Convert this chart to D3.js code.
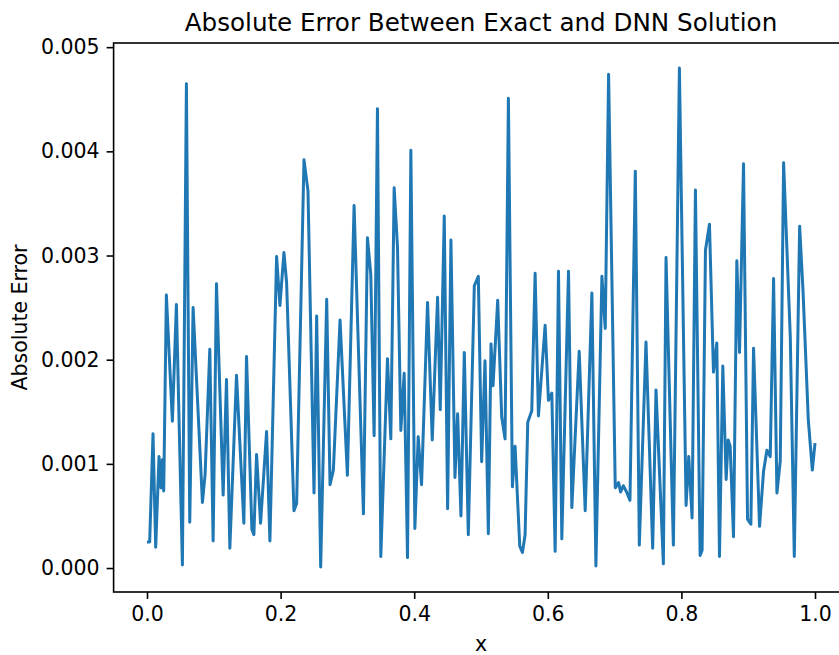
<!DOCTYPE html>
<html>
<head>
<meta charset="utf-8">
<script src="https://cdn.jsdelivr.net/npm/d3@7/dist/d3.min.js"></script>
<style>
body { margin: 0; background: #fff; }
text { font-family: "DejaVu Sans", sans-serif; fill: #000; }
</style>
</head>
<body>
<div id="chart"></div>
<script>
// values (turning points of the curve)
var xValues = [
  0.000, 0.004, 0.009, 0.013, 0.018, 0.021, 0.023, 0.025, 0.029, 0.038,
  0.044, 0.053, 0.059, 0.064, 0.069, 0.083, 0.087, 0.094, 0.099, 0.104,
  0.114, 0.119, 0.124, 0.134, 0.145, 0.149, 0.157, 0.160, 0.164, 0.170,
  0.179, 0.184, 0.194, 0.199, 0.205, 0.209, 0.220, 0.224, 0.235, 0.241,
  0.250, 0.254, 0.260, 0.269, 0.274, 0.279, 0.289, 0.300, 0.310, 0.324,
  0.330, 0.335, 0.340, 0.345, 0.350, 0.360, 0.365, 0.370, 0.375, 0.380,
  0.385, 0.390, 0.395, 0.401, 0.406, 0.411, 0.420, 0.427, 0.435, 0.439,
  0.445, 0.450, 0.455, 0.461, 0.465, 0.470, 0.475, 0.481, 0.490, 0.496,
  0.501, 0.506, 0.511, 0.515, 0.518, 0.525, 0.531, 0.536, 0.541, 0.547,
  0.551, 0.558, 0.562, 0.566, 0.570, 0.576, 0.581, 0.586, 0.596, 0.601,
  0.606, 0.611, 0.616, 0.621, 0.631, 0.636, 0.647, 0.656, 0.666, 0.672,
  0.681, 0.686, 0.691, 0.701, 0.706, 0.709, 0.713, 0.718, 0.723, 0.731,
  0.737, 0.747, 0.757, 0.762, 0.773, 0.777, 0.788, 0.797, 0.807, 0.811,
  0.816, 0.821, 0.828, 0.831, 0.836, 0.842, 0.848, 0.853, 0.857, 0.862,
  0.867, 0.870, 0.873, 0.878, 0.883, 0.887, 0.893, 0.899, 0.904, 0.908,
  0.917, 0.923, 0.928, 0.933, 0.938, 0.943, 0.948, 0.953, 0.963, 0.969,
  0.977, 0.982, 0.990, 0.996, 1.000
];

var errValues = [
  0.00025, 0.00025, 0.00129, 0.00020, 0.00107, 0.00077, 0.00104, 0.00074, 0.00262, 0.00141,
  0.00253, 0.00003, 0.00465, 0.00044, 0.00250, 0.00063, 0.00090, 0.00210, 0.00026, 0.00273,
  0.00070, 0.00181, 0.00019, 0.00185, 0.00043, 0.00203, 0.00037, 0.00032, 0.00109, 0.00043,
  0.00131, 0.00026, 0.00299, 0.00252, 0.00303, 0.00274, 0.00055, 0.00062, 0.00392, 0.00362,
  0.00072, 0.00242, 0.00001, 0.00258, 0.00080, 0.00094, 0.00238, 0.00089, 0.00348, 0.00052,
  0.00317, 0.00282, 0.00127, 0.00441, 0.00011, 0.00201, 0.00124, 0.00365, 0.00308, 0.00132,
  0.00187, 0.00010, 0.00401, 0.00038, 0.00126, 0.00080, 0.00255, 0.00123, 0.00260, 0.00152,
  0.00338, 0.00057, 0.00315, 0.00087, 0.00148, 0.00050, 0.00207, 0.00032, 0.00271, 0.00280,
  0.00102, 0.00199, 0.00033, 0.00215, 0.00175, 0.00257, 0.00145, 0.00124, 0.00451, 0.00078,
  0.00117, 0.00021, 0.00015, 0.00032, 0.00140, 0.00151, 0.00283, 0.00146, 0.00233, 0.00161,
  0.00168, 0.00016, 0.00285, 0.00028, 0.00285, 0.00058, 0.00208, 0.00055, 0.00264, 0.00002,
  0.00280, 0.00230, 0.00474, 0.00077, 0.00082, 0.00073, 0.00079, 0.00073, 0.00065, 0.00381,
  0.00022, 0.00217, 0.00019, 0.00171, 0.00004, 0.00298, 0.00022, 0.00480, 0.00060, 0.00107,
  0.00048, 0.00363, 0.00012, 0.00017, 0.00305, 0.00330, 0.00188, 0.00216, 0.00011, 0.00194,
  0.00085, 0.00123, 0.00117, 0.00030, 0.00295, 0.00207, 0.00388, 0.00047, 0.00042, 0.00211,
  0.00040, 0.00093, 0.00113, 0.00107, 0.00278, 0.00072, 0.00103, 0.00389, 0.00222, 0.00011,
  0.00328, 0.00267, 0.00142, 0.00094, 0.00120
];

var xTicks = [0.0, 0.2, 0.4, 0.6, 0.8, 1.0];
var yTicks = [0.000, 0.001, 0.002, 0.003, 0.004, 0.005];

var titleText = "Absolute Error Between Exact and DNN Solution";
var xLabel = "x";
var yLabel = "Absolute Error";

var outerWidth = 839,
  outerHeight = 655,
  marginLeft = 113.6,
  marginTop = 43,
  width = 734.8,   // right spine falls just outside the picture
  height = 549;

var svg = d3.select("#chart").append("svg")
  .attr("width", outerWidth)
  .attr("height", outerHeight);

var g = svg.append("g")
  .attr("transform", "translate(" + marginLeft + "," + marginTop + ")");

// matplotlib style limits with 5% margins
var xScale = d3.scaleLinear()
  .domain([-0.05, 1.05])
  .range([0, width]);

var yScale = d3.scaleLinear()
  .domain([-0.00023, 0.00504])
  .range([height, 0]);

var data = xValues.map(function(x, i) {
  return { x: x, err: errValues[i] };
});

var line = d3.line()
  .x(function(d) { return xScale(d.x); })
  .y(function(d) { return yScale(d.err); });

g.append("path")
  .datum(data)
  .attr("fill", "none")
  .attr("stroke", "#1f77b4")
  .attr("stroke-width", 3)
  .attr("stroke-linejoin", "round")
  .attr("d", line);

var xAxis = d3.axisBottom(xScale)
  .tickValues(xTicks)
  .tickSize(7)
  .tickPadding(7)
  .tickFormat(d3.format(".1f"));

var yAxis = d3.axisLeft(yScale)
  .tickValues(yTicks)
  .tickSize(7)
  .tickPadding(7)
  .tickFormat(d3.format(".3f"));

var gx = g.append("g")
  .attr("transform", "translate(0," + height + ")")
  .call(xAxis);

var gy = g.append("g")
  .call(yAxis);

[gx, gy].forEach(function(ax) {
  ax.select(".domain").remove();
  ax.selectAll("line").attr("stroke", "#000").attr("stroke-width", 1.6);
  ax.selectAll("text")
    .attr("font-size", 20.5)
    .attr("font-family", "DejaVu Sans")
    .attr("fill", "#000");
});

// frame
g.append("rect")
  .attr("x", 0)
  .attr("y", 0)
  .attr("width", width)
  .attr("height", height)
  .attr("fill", "none")
  .attr("stroke", "#000")
  .attr("stroke-width", 1.6);

// title and labels
svg.append("text")
  .attr("x", marginLeft + width / 2)
  .attr("y", 31)
  .attr("text-anchor", "middle")
  .attr("font-size", 24.6)
  .text(titleText);

svg.append("text")
  .attr("x", marginLeft + width / 2)
  .attr("y", 651)
  .attr("text-anchor", "middle")
  .attr("font-size", 20.5)
  .text(xLabel);

svg.append("text")
  .attr("transform", "translate(27," + (marginTop + height / 2) + ") rotate(-90)")
  .attr("text-anchor", "middle")
  .attr("font-size", 20.5)
  .text(yLabel);
</script>
</body>
</html>
